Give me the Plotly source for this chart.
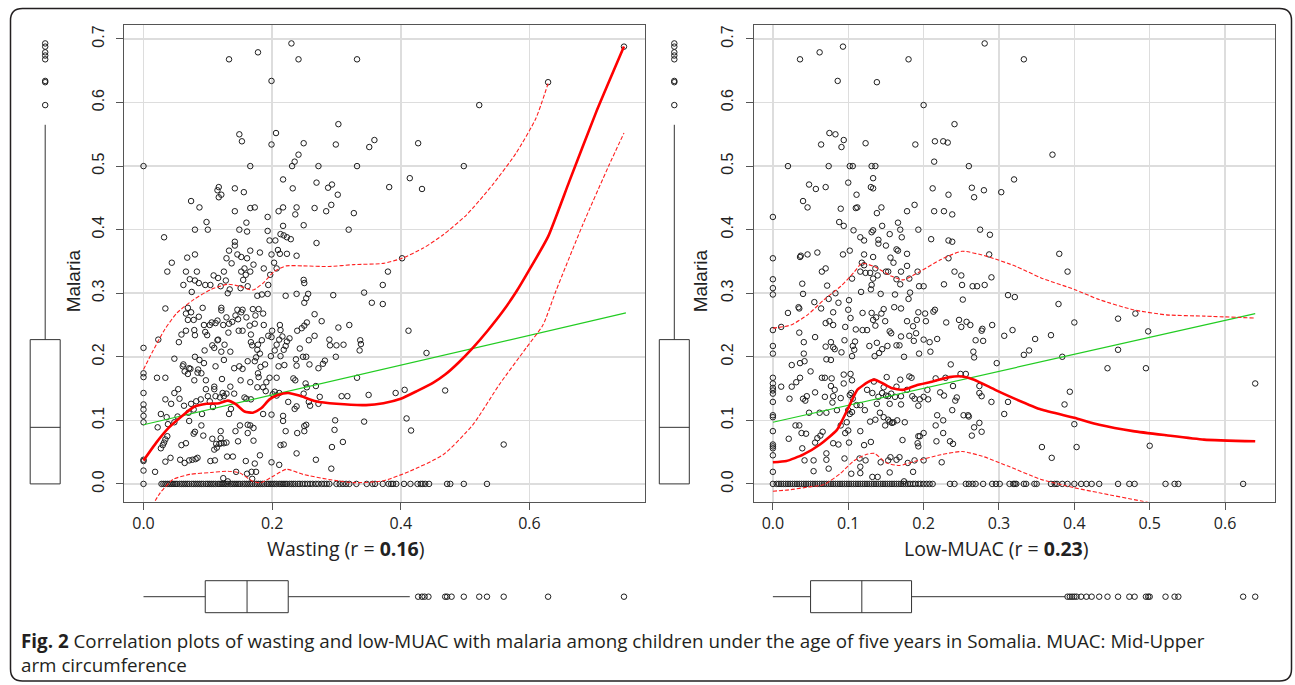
import plotly.graph_objects as go

W, H = 1295, 685

# ---------------- data ----------------
# Panel 1: Wasting vs Malaria, non-zero malaria points (x = wasting, y = malaria)
wasting_points = [
    (0.230,0.693),(0.178,0.679),(0.133,0.668),(0.241,0.668),(0.332,0.668),(0.199,0.634),
    (0.303,0.566),(0.149,0.550),(0.206,0.552),(0.153,0.539),(0.199,0.534),(0.249,0.536),(0.299,0.534),(0.359,0.541),(0.351,0.530),
    (0.0,0.500),(0.166,0.500),(0.231,0.500),(0.272,0.500),(0.332,0.500),(0.241,0.518),(0.235,0.507),
    (0.217,0.479),(0.232,0.465),(0.269,0.474),(0.287,0.466),(0.293,0.471),(0.302,0.455),
    (0.117,0.467),(0.115,0.462),(0.121,0.455),(0.117,0.451),(0.142,0.465),(0.156,0.459),
    (0.074,0.445),(0.087,0.435),(0.142,0.429),(0.166,0.434),(0.173,0.435),(0.098,0.412),
    (0.080,0.400),(0.100,0.400),(0.149,0.400),(0.161,0.397),(0.160,0.411),(0.193,0.420),
    (0.210,0.429),(0.217,0.435),(0.238,0.435),(0.236,0.424),(0.266,0.434),(0.284,0.429),(0.292,0.439),(0.327,0.426),
    (0.249,0.407),(0.217,0.406),(0.193,0.398),(0.213,0.393),(0.218,0.391),(0.223,0.388),(0.229,0.385),(0.319,0.400),(0.269,0.379),
    (0.032,0.388),(0.196,0.383),(0.205,0.383),(0.142,0.381),(0.142,0.375),(0.133,0.367),(0.166,0.367),(0.181,0.364),
    (0.146,0.361),(0.152,0.357),(0.161,0.355),(0.129,0.355),(0.068,0.356),(0.080,0.361),(0.199,0.361),(0.209,0.368),(0.212,0.362),(0.223,0.362),(0.238,0.359),
    (0.044,0.348),(0.137,0.347),(0.171,0.345),(0.203,0.348),
    (0.037,0.334),(0.066,0.334),(0.083,0.334),(0.062,0.313),(0.072,0.322),(0.080,0.320),(0.086,0.316),(0.096,0.313),(0.104,0.313),(0.075,0.302),
    (0.109,0.328),(0.116,0.324),(0.125,0.334),(0.128,0.320),(0.120,0.311),(0.155,0.321),(0.152,0.334),(0.159,0.329),(0.166,0.334),(0.157,0.339),
    (0.187,0.339),(0.151,0.308),(0.162,0.311),(0.131,0.300),(0.134,0.306),(0.177,0.296),(0.184,0.298),(0.193,0.299),(0.194,0.313),(0.197,0.329),(0.207,0.339),
    (0.221,0.296),(0.238,0.299),(0.249,0.321),(0.250,0.316),(0.250,0.285),(0.253,0.292),(0.256,0.299),(0.295,0.297),(0.343,0.301),(0.355,0.285),(0.372,0.313),(0.372,0.283),
    (0.034,0.276),(0.023,0.227),(0.0,0.214),(0.048,0.197),(0.055,0.223),(0.059,0.235),(0.066,0.241),(0.069,0.277),(0.066,0.268),(0.074,0.270),(0.069,0.258),(0.078,0.258),
    (0.079,0.242),(0.080,0.234),(0.086,0.263),(0.092,0.277),(0.094,0.250),(0.096,0.239),(0.099,0.234),(0.080,0.200),(0.062,0.188),(0.071,0.182),(0.085,0.180),(0.095,0.210),
    (0.103,0.250),(0.106,0.254),(0.112,0.253),(0.115,0.257),(0.110,0.214),(0.107,0.218),(0.116,0.227),(0.121,0.277),(0.121,0.273),(0.121,0.208),(0.115,0.226),(0.124,0.250),
    (0.129,0.262),(0.133,0.252),(0.132,0.238),(0.138,0.255),(0.143,0.265),(0.147,0.259),(0.148,0.241),(0.154,0.241),(0.154,0.274),(0.146,0.274),(0.152,0.270),(0.160,0.262),
    (0.165,0.249),(0.170,0.275),(0.174,0.265),(0.179,0.275),(0.173,0.252),(0.167,0.235),(0.167,0.223),(0.169,0.218),(0.178,0.219),(0.184,0.226),(0.177,0.211),(0.175,0.199),
    (0.181,0.205),(0.182,0.184),(0.135,0.208),(0.126,0.219),(0.125,0.195),(0.112,0.185),(0.087,0.195),(0.094,0.190),(0.141,0.182),(0.149,0.185),(0.154,0.181),(0.162,0.193),
    (0.173,0.193),(0.189,0.188),(0.186,0.268),(0.187,0.250),(0.194,0.233),(0.200,0.241),(0.199,0.231),(0.204,0.210),(0.198,0.201),(0.207,0.219),(0.211,0.227),(0.212,0.250),
    (0.213,0.242),(0.216,0.232),(0.221,0.217),(0.223,0.224),(0.227,0.229),(0.218,0.211),(0.213,0.201),(0.219,0.187),(0.210,0.185),
    (0.243,0.213),(0.237,0.196),(0.248,0.200),(0.253,0.200),(0.257,0.226),(0.266,0.233),(0.239,0.241),(0.246,0.245),(0.250,0.249),(0.254,0.254),(0.266,0.267),(0.277,0.256),
    (0.289,0.227),(0.290,0.218),(0.300,0.218),(0.311,0.219),(0.299,0.200),(0.303,0.246),(0.320,0.250),(0.337,0.226),(0.338,0.220),(0.336,0.210),(0.282,0.194),(0.279,0.189),
    (0.272,0.182),(0.258,0.188),(0.238,0.186),
    (0.0,0.174),(0.0,0.168),(0.021,0.167),(0.034,0.167),(0.0,0.143),(0.0,0.125),(0.0,0.117),(0.0,0.107),(0.0,0.097),(0.022,0.089),(0.027,0.110),(0.034,0.133),
    (0.036,0.105),(0.038,0.094),(0.043,0.126),(0.048,0.143),(0.054,0.149),(0.056,0.134),(0.063,0.123),(0.061,0.185),(0.064,0.177),(0.069,0.173),(0.073,0.181),(0.079,0.163),
    (0.084,0.175),(0.090,0.174),(0.053,0.106),(0.071,0.099),(0.070,0.112),(0.074,0.126),(0.078,0.117),(0.082,0.130),(0.089,0.133),(0.091,0.110),(0.097,0.163),(0.097,0.149),
    (0.100,0.138),(0.103,0.130),(0.110,0.153),(0.110,0.149),(0.112,0.138),(0.108,0.121),(0.119,0.136),(0.123,0.143),(0.125,0.138),(0.129,0.142),(0.135,0.153),(0.136,0.118),
    (0.133,0.110),(0.122,0.165),(0.141,0.142),(0.151,0.163),(0.157,0.136),(0.160,0.134),(0.167,0.133),(0.166,0.160),(0.178,0.174),(0.179,0.168),(0.177,0.152),(0.186,0.110),
    (0.186,0.152),(0.191,0.160),(0.196,0.167),(0.190,0.146),(0.201,0.141),(0.204,0.145),(0.207,0.139),(0.211,0.143),(0.207,0.167),(0.199,0.109),(0.217,0.107),(0.217,0.099),
    (0.225,0.129),(0.235,0.118),(0.238,0.122),(0.233,0.166),(0.236,0.163),(0.252,0.158),(0.254,0.152),(0.249,0.142),(0.257,0.129),(0.259,0.123),(0.268,0.154),(0.274,0.137),
    (0.272,0.126),(0.298,0.100),(0.308,0.138),(0.317,0.138),(0.332,0.167),(0.350,0.140),(0.343,0.098),(0.297,0.085),(0.310,0.066),(0.293,0.058),(0.292,0.024),
    (0.0,0.038),(0.0,0.036),(0.0,0.021),(0.018,0.019),(0.027,0.056),(0.030,0.061),(0.032,0.065),(0.034,0.070),(0.037,0.075),(0.034,0.035),(0.042,0.041),(0.048,0.097),
    (0.057,0.038),(0.059,0.061),(0.066,0.064),(0.064,0.033),(0.071,0.037),(0.076,0.038),(0.081,0.039),(0.084,0.041),(0.078,0.079),(0.080,0.082),(0.093,0.076),(0.090,0.092),
    (0.104,0.036),(0.111,0.037),(0.110,0.054),(0.114,0.057),(0.107,0.071),(0.120,0.083),(0.113,0.063),(0.118,0.063),(0.121,0.064),(0.125,0.064),(0.129,0.065),(0.120,0.072),
    (0.124,0.009),(0.131,0.004),(0.130,0.043),(0.139,0.043),(0.143,0.083),(0.150,0.092),(0.147,0.067),(0.144,0.019),(0.159,0.036),(0.162,0.093),(0.162,0.080),(0.166,0.092),
    (0.171,0.088),(0.171,0.068),(0.173,0.032),(0.181,0.045),(0.161,0.016),(0.168,0.019),(0.175,0.019),(0.169,0.008),(0.199,0.034),(0.211,0.030),(0.213,0.061),(0.218,0.062),
    (0.221,0.083),(0.238,0.048),(0.239,0.080),(0.250,0.091),(0.253,0.093),(0.250,0.083),(0.268,0.038),
    (0.747,0.688),(0.629,0.632),(0.522,0.596),(0.427,0.536),(0.498,0.500),(0.382,0.467),(0.414,0.481),(0.433,0.464),(0.402,0.355),(0.380,0.334),
    (0.412,0.241),(0.440,0.206),(0.392,0.143),(0.406,0.148),(0.469,0.147),(0.409,0.103),(0.416,0.084),(0.560,0.062),
]
# Panel 1: wasting values of children with zero malaria
wasting_zero_x = [
    0.0,0.028,0.031,0.034,0.037,0.040,0.043,0.046,0.049,0.052,0.056,0.059,0.062,0.065,0.068,0.071,0.075,0.078,0.081,0.084,
    0.087,0.090,0.093,0.097,0.100,0.103,0.106,0.109,0.112,0.116,0.119,0.122,0.125,0.128,0.131,0.135,0.138,0.141,0.144,0.147,
    0.150,0.154,0.157,0.160,0.163,0.166,0.169,0.173,0.176,0.179,0.182,0.185,0.188,0.192,0.195,0.198,0.201,0.204,0.207,0.211,
    0.214,0.217,0.220,0.223,0.227,0.230,0.233,0.236,0.240,0.243,0.247,0.251,0.255,0.259,0.263,0.268,0.272,0.277,0.281,0.285,
    0.289,0.300,0.305,0.310,0.315,0.320,0.331,0.347,0.356,0.360,0.372,0.381,0.385,0.388,0.393,0.405,0.415,0.426,0.431,0.434,
    0.438,0.444,0.472,0.477,0.498,0.534,
]
# Panel 1 fitted lines
wasting_loess_x = [0.0,0.0196,0.039,0.059,0.078,0.098,0.118,0.131,0.144,0.157,0.170,0.183,0.196,0.209,0.225,0.242,0.268,0.30,
                   0.346,0.373,0.400,0.425,0.450,0.469,0.490,0.512,0.535,0.559,0.580,0.600,0.629,0.662,0.703,0.747]
wasting_loess_y = [0.0367,0.0645,0.088,0.106,0.121,0.126,0.127,0.131,0.125,0.114,0.112,0.119,0.133,0.140,0.143,0.139,0.130,0.126,
                   0.124,0.127,0.134,0.146,0.159,0.172,0.191,0.214,0.241,0.272,0.303,0.337,0.389,0.476,0.583,0.688]
wasting_upper_x = [0.0,0.013,0.033,0.052,0.078,0.105,0.131,0.150,0.170,0.186,0.203,0.222,0.248,0.288,0.327,0.373,0.402,0.435,
                   0.466,0.502,0.543,0.579,0.610,0.629]
wasting_upper_y = [0.180,0.206,0.243,0.269,0.290,0.306,0.314,0.311,0.305,0.316,0.334,0.343,0.343,0.342,0.345,0.347,0.355,0.371,
                   0.392,0.423,0.471,0.520,0.575,0.630]
wasting_lower_x = [0.0,0.026,0.046,0.072,0.105,0.131,0.150,0.170,0.183,0.203,0.222,0.248,0.288,0.327,0.373,0.414,0.466,0.512,
                   0.553,0.595,0.621,0.641,0.683,0.724,0.747]
wasting_lower_y = [-0.060,-0.014,0.007,0.015,0.018,0.020,0.017,0.004,0.002,0.013,0.023,0.015,0.007,0.002,0.005,0.020,0.046,0.093,
                   0.156,0.214,0.250,0.303,0.408,0.502,0.552]
wasting_lin_x = [0.0, 0.75]
wasting_lin_y = [0.093, 0.269]

# Panel 2: Low-MUAC vs Malaria, non-zero malaria points
muac_points = [
    (0.281,0.693),(0.036,0.668),(0.062,0.679),(0.093,0.688),(0.180,0.668),(0.086,0.634),(0.138,0.632),(0.200,0.596),(0.241,0.566),
    (0.075,0.552),(0.083,0.550),(0.064,0.534),(0.091,0.530),(0.094,0.541),(0.123,0.536),(0.189,0.534),(0.215,0.539),(0.226,0.539),(0.232,0.537),(0.214,0.507),
    (0.020,0.500),(0.074,0.500),(0.102,0.500),(0.106,0.500),(0.131,0.500),(0.136,0.500),(0.260,0.500),
    (0.133,0.481),(0.130,0.467),(0.133,0.465),(0.100,0.474),(0.111,0.455),(0.048,0.471),(0.057,0.464),(0.070,0.467),(0.040,0.445),(0.046,0.435),(0.0,0.420),
    (0.090,0.433),(0.110,0.434),(0.112,0.435),(0.144,0.435),(0.138,0.426),(0.178,0.429),(0.188,0.439),(0.212,0.465),(0.233,0.455),(0.264,0.466),(0.267,0.451),
    (0.280,0.462),(0.303,0.459),(0.320,0.479),
    (0.214,0.429),(0.227,0.429),(0.238,0.424),(0.088,0.412),(0.094,0.406),(0.107,0.399),(0.116,0.388),(0.121,0.383),(0.133,0.399),(0.131,0.396),(0.145,0.406),
    (0.140,0.384),(0.140,0.378),(0.150,0.375),(0.155,0.393),(0.166,0.411),(0.169,0.400),(0.171,0.388),(0.193,0.400),(0.210,0.385),(0.233,0.383),(0.238,0.381),
    (0.275,0.400),(0.288,0.392),
    (0.0,0.355),(0.036,0.357),(0.037,0.359),(0.046,0.361),(0.059,0.364),(0.093,0.361),(0.102,0.367),(0.121,0.361),(0.133,0.357),(0.164,0.369),(0.166,0.367),
    (0.156,0.356),(0.178,0.362),(0.233,0.355),(0.287,0.361),(0.118,0.348),(0.160,0.348),
    (0.0,0.322),(0.0,0.308),(0.0,0.298),(0.039,0.315),(0.040,0.299),(0.065,0.334),(0.070,0.339),(0.072,0.312),(0.083,0.300),(0.105,0.323),(0.121,0.344),
    (0.116,0.334),(0.123,0.332),(0.129,0.332),(0.136,0.339),(0.139,0.328),(0.133,0.323),(0.131,0.313),(0.130,0.306),(0.117,0.302),(0.143,0.299),(0.150,0.334),
    (0.153,0.334),(0.164,0.322),(0.170,0.334),(0.169,0.314),(0.162,0.298),(0.178,0.343),(0.181,0.323),(0.192,0.334),(0.194,0.311),(0.182,0.301),(0.180,0.291),
    (0.200,0.311),(0.227,0.314),(0.241,0.334),(0.250,0.328),(0.251,0.313),(0.252,0.290),(0.265,0.311),(0.271,0.311),(0.281,0.313),(0.290,0.325),(0.312,0.297),
    (0.0,0.242),(0.0,0.217),(0.0,0.205),(0.011,0.247),(0.020,0.269),(0.034,0.278),(0.035,0.276),(0.056,0.231),(0.041,0.223),(0.041,0.205),(0.035,0.238),
    (0.055,0.286),(0.064,0.276),(0.070,0.253),(0.075,0.256),(0.080,0.250),(0.080,0.270),(0.074,0.291),(0.087,0.285),(0.070,0.216),(0.077,0.223),(0.080,0.215),
    (0.082,0.212),(0.091,0.207),(0.095,0.226),(0.096,0.247),(0.100,0.274),(0.101,0.289),(0.103,0.261),(0.106,0.217),(0.108,0.211),(0.105,0.201),(0.109,0.224),
    (0.110,0.243),(0.119,0.242),(0.119,0.269),(0.125,0.242),(0.128,0.217),(0.131,0.269),(0.133,0.258),(0.136,0.249),(0.137,0.262),(0.141,0.206),(0.144,0.268),
    (0.147,0.275),(0.149,0.256),(0.152,0.217),(0.145,0.212),(0.135,0.201),(0.138,0.222),(0.155,0.240),(0.157,0.237),(0.164,0.218),(0.168,0.218),(0.170,0.232),
    (0.174,0.200),(0.170,0.276),(0.161,0.278),(0.178,0.256),(0.181,0.233),(0.187,0.225),(0.186,0.248),(0.190,0.237),(0.191,0.258),(0.193,0.270),(0.194,0.205),
    (0.200,0.227),(0.202,0.268),(0.203,0.256),(0.209,0.208),(0.208,0.223),(0.213,0.271),(0.215,0.274),(0.218,0.228),(0.230,0.254),(0.247,0.258),(0.250,0.247),
    (0.257,0.255),(0.262,0.250),(0.266,0.208),(0.267,0.199),(0.269,0.226),(0.277,0.241),(0.278,0.244),(0.279,0.225),(0.291,0.250),(0.297,0.190),(0.307,0.233),
    (0.318,0.242),(0.236,0.188),
    (0.0,0.167),(0.0,0.158),(0.0,0.151),(0.0,0.147),(0.0,0.142),(0.0,0.129),(0.0,0.108),(0.0,0.105),(0.011,0.153),(0.025,0.187),(0.022,0.134),(0.025,0.153),
    (0.031,0.160),(0.036,0.167),(0.036,0.190),(0.042,0.193),(0.050,0.177),(0.040,0.134),(0.045,0.138),(0.043,0.131),(0.048,0.112),(0.056,0.144),(0.062,0.112),
    (0.065,0.167),(0.069,0.167),(0.071,0.196),(0.077,0.195),(0.078,0.166),(0.077,0.154),(0.080,0.138),(0.082,0.148),(0.069,0.137),(0.071,0.112),(0.079,0.128),
    (0.085,0.116),(0.090,0.135),(0.094,0.158),(0.094,0.172),(0.103,0.173),(0.105,0.163),(0.104,0.143),(0.102,0.140),(0.106,0.134),(0.105,0.113),(0.102,0.110),
    (0.100,0.116),(0.111,0.124),(0.116,0.124),(0.122,0.116),(0.125,0.148),(0.132,0.143),(0.134,0.161),(0.140,0.137),(0.138,0.126),(0.142,0.112),(0.145,0.143),
    (0.147,0.152),(0.151,0.168),(0.150,0.139),(0.153,0.138),(0.157,0.142),(0.155,0.126),(0.155,0.098),(0.153,0.101),(0.149,0.092),(0.162,0.137),(0.164,0.153),
    (0.169,0.164),(0.170,0.138),(0.170,0.125),(0.178,0.148),(0.181,0.169),(0.184,0.167),(0.185,0.138),(0.188,0.134),(0.193,0.123),(0.195,0.133),(0.200,0.137),
    (0.205,0.148),(0.206,0.133),(0.216,0.166),(0.222,0.144),(0.227,0.139),(0.229,0.167),(0.239,0.154),(0.242,0.131),(0.244,0.136),(0.249,0.173),(0.256,0.173),
    (0.253,0.108),(0.259,0.108),(0.260,0.106),(0.274,0.154),(0.274,0.143),(0.277,0.138),(0.290,0.129),(0.307,0.110),(0.312,0.129),(0.238,0.116),(0.226,0.100),
    (0.218,0.108),(0.175,0.097),(0.165,0.100),(0.160,0.097),(0.129,0.098),(0.136,0.101),(0.147,0.105),(0.158,0.096),(0.098,0.097),
    (0.0,0.083),(0.0,0.062),(0.0,0.059),(0.0,0.056),(0.0,0.045),(0.0,0.019),(0.021,0.071),(0.030,0.092),(0.035,0.092),(0.038,0.080),(0.039,0.056),(0.044,0.079),
    (0.042,0.037),(0.054,0.037),(0.054,0.020),(0.056,0.065),(0.059,0.072),(0.063,0.076),(0.066,0.082),(0.071,0.048),(0.071,0.038),(0.074,0.024),(0.080,0.064),
    (0.087,0.062),(0.090,0.092),(0.096,0.080),(0.095,0.040),(0.100,0.084),(0.101,0.065),(0.104,0.016),(0.116,0.083),(0.115,0.040),(0.116,0.027),(0.121,0.061),
    (0.116,0.017),(0.123,0.037),(0.130,0.066),(0.132,0.011),(0.139,0.011),(0.143,0.034),(0.153,0.037),(0.155,0.018),(0.156,0.042),(0.164,0.038),(0.168,0.042),
    (0.172,0.069),(0.174,0.004),(0.179,0.033),(0.186,0.019),(0.188,0.037),(0.193,0.075),(0.192,0.064),(0.193,0.059),(0.195,0.075),(0.200,0.037),(0.200,0.080),
    (0.216,0.092),(0.217,0.067),(0.224,0.034),(0.226,0.080),(0.235,0.067),(0.239,0.063),(0.264,0.076),(0.267,0.089),(0.277,0.082),(0.274,0.096),
    (0.333,0.668),(0.371,0.518),(0.380,0.362),(0.391,0.334),(0.321,0.294),(0.379,0.283),(0.400,0.254),(0.458,0.260),(0.481,0.268),(0.498,0.240),
    (0.348,0.228),(0.369,0.234),(0.340,0.210),(0.333,0.203),(0.384,0.200),(0.458,0.211),(0.444,0.182),(0.495,0.182),(0.640,0.158),(0.394,0.145),
    (0.387,0.125),(0.400,0.094),(0.357,0.058),(0.403,0.058),(0.500,0.060),(0.370,0.041),
]
muac_zero_x = [
    0.0,0.005,0.008,0.011,0.014,0.017,0.020,0.023,0.026,0.029,0.032,0.035,0.038,0.041,0.044,0.047,0.050,0.053,0.056,0.059,
    0.062,0.065,0.068,0.071,0.074,0.077,0.080,0.083,0.086,0.089,0.092,0.095,0.098,0.101,0.104,0.107,0.110,0.113,0.116,0.119,
    0.122,0.125,0.128,0.131,0.134,0.137,0.140,0.143,0.146,0.149,0.152,0.155,0.158,0.161,0.164,0.167,0.170,0.173,0.176,0.179,
    0.182,0.186,0.189,0.193,0.196,0.200,0.204,0.208,0.212,0.235,0.241,0.256,0.260,0.265,0.269,0.279,0.291,0.296,0.301,0.314,
    0.319,0.321,0.323,0.333,0.336,0.347,0.350,0.369,0.374,0.377,0.384,0.391,0.400,0.409,0.416,0.423,0.433,0.458,0.473,0.480,
    0.521,0.533,0.538,0.624,
]
muac_loess_x = [0.0,0.018,0.040,0.0625,0.085,0.101,0.112,0.126,0.1345,0.146,0.157,0.173,0.190,0.212,0.234,0.251,0.267,0.295,
                0.323,0.356,0.400,0.433,0.478,0.522,0.572,0.64]
muac_loess_y = [0.034,0.036,0.046,0.062,0.085,0.122,0.148,0.160,0.164,0.158,0.151,0.148,0.155,0.161,0.168,0.169,0.164,0.148,
                0.133,0.117,0.104,0.093,0.083,0.0765,0.0697,0.067]
muac_upper_x = [0.0,0.024,0.046,0.068,0.090,0.107,0.118,0.1345,0.157,0.173,0.195,0.223,0.251,0.284,0.323,0.356,0.400,0.433,
                0.478,0.522,0.572,0.638]
muac_upper_y = [0.245,0.250,0.266,0.290,0.311,0.332,0.347,0.342,0.327,0.321,0.334,0.353,0.366,0.358,0.342,0.324,0.306,0.290,
                0.274,0.266,0.264,0.261]
muac_lower_x = [0.0,0.024,0.046,0.068,0.090,0.107,0.123,0.1345,0.151,0.168,0.190,0.223,0.251,0.278,0.312,0.356,0.400,0.433,
                0.489,0.544,0.638]
muac_lower_y = [-0.0115,-0.009,-0.005,-0.001,0.017,0.036,0.046,0.048,0.033,0.029,0.036,0.046,0.051,0.0435,0.028,0.007,-0.006,
                -0.014,-0.027,-0.040,-0.061]
muac_lin_x = [0.0, 0.64]
muac_lin_y = [0.097, 0.268]

# marginal boxplot statistics
malaria_box = [0.0, 0.089, 0.227, 0.0, 0.565]          # q1, median, q3, lower whisker, upper whisker
malaria_outliers = [0.596, 0.632, 0.634, 0.668, 0.674, 0.679, 0.688, 0.693]
wasting_box = [0.096, 0.161, 0.225, 0.0, 0.414]
wasting_outliers = [0.427, 0.433, 0.437, 0.443, 0.469, 0.472, 0.479, 0.498, 0.522, 0.534, 0.560, 0.629, 0.747]
muac_box = [0.050, 0.118, 0.184, 0.0, 0.388]
muac_outliers = [0.391, 0.394, 0.397, 0.400, 0.403, 0.409, 0.416, 0.423, 0.433, 0.444, 0.458, 0.473, 0.480,
                 0.495, 0.498, 0.500, 0.521, 0.533, 0.538, 0.624, 0.640]

x_titles = ["Wasting (r = <b>0.16</b>)", "Low-MUAC (r = <b>0.23</b>)"]
y_title = "Malaria"
caption_1 = ("<b>Fig. 2</b> Correlation plots of wasting and low-MUAC with malaria among children under the age of "
             "five years in Somalia. MUAC: Mid-Upper")
caption_2 = "arm circumference"

# ---------------- helpers ----------------
def fx(p):
    return p / W

def fy(p):
    return 1 - p / H

PT = "#1e1e1e"
FRAME = "#555555"
GRID = "#dddddd"
SANS = "Liberation Sans, Arial, sans-serif"
HUM = "Open Sans, Noto Sans, sans-serif"

fig = go.Figure()

marker = dict(symbol="circle-open", size=5.5, color=PT, line=dict(width=1, color=PT))


def add_panel(points, zero_x, loess_x, loess_y, up_x, up_y, lo_x, lo_y, lin_x, lin_y, xa, ya):
    fig.add_trace(go.Scatter(x=[p[0] for p in points] + zero_x,
                             y=[p[1] for p in points] + [0.0] * len(zero_x),
                             mode="markers", marker=marker, xaxis=xa, yaxis=ya, hoverinfo="skip"))
    fig.add_trace(go.Scatter(x=lin_x, y=lin_y, mode="lines", line=dict(color="#22cc22", width=1.2),
                             xaxis=xa, yaxis=ya, hoverinfo="skip"))
    dash = dict(color="#ff2020", width=1.1, dash="4px,2px", shape="spline", smoothing=0.6)
    fig.add_trace(go.Scatter(x=up_x, y=up_y, mode="lines", line=dash, xaxis=xa, yaxis=ya, hoverinfo="skip"))
    fig.add_trace(go.Scatter(x=lo_x, y=lo_y, mode="lines", line=dash, xaxis=xa, yaxis=ya, hoverinfo="skip"))
    fig.add_trace(go.Scatter(x=loess_x, y=loess_y, mode="lines",
                             line=dict(color="#ff0000", width=2.6, shape="spline", smoothing=0.5),
                             xaxis=xa, yaxis=ya, hoverinfo="skip"))


add_panel(wasting_points, wasting_zero_x, wasting_loess_x, wasting_loess_y, wasting_upper_x, wasting_upper_y,
          wasting_lower_x, wasting_lower_y, wasting_lin_x, wasting_lin_y, "x", "y")
add_panel(muac_points, muac_zero_x, muac_loess_x, muac_loess_y, muac_upper_x, muac_upper_y,
          muac_lower_x, muac_lower_y, muac_lin_x, muac_lin_y, "x2", "y2")

boxstyle = dict(fillcolor="white", line=dict(color="#333333", width=1), whiskerwidth=0, boxpoints=False, hoverinfo="skip")

# vertical (malaria) boxplots: own hidden axes (x3/y5 and x4/y6) so no grid is drawn behind them
for xa, ya in (("x3", "y5"), ("x4", "y6")):
    q1, med, q3, lo, hi = malaria_box
    fig.add_trace(go.Box(x=[0], q1=[q1], median=[med], q3=[q3], lowerfence=[lo], upperfence=[hi],
                         width=0.6, xaxis=xa, yaxis=ya, **boxstyle))
    fig.add_trace(go.Scatter(x=[0] * len(malaria_outliers), y=malaria_outliers, mode="markers", marker=marker,
                             xaxis=xa, yaxis=ya, hoverinfo="skip"))

# horizontal (x variable) boxplots: own hidden axes (x5/y3 and x6/y4)
for stats, outs, xa, ya in ((wasting_box, wasting_outliers, "x5", "y3"), (muac_box, muac_outliers, "x6", "y4")):
    q1, med, q3, lo, hi = stats
    fig.add_trace(go.Box(y=[0], q1=[q1], median=[med], q3=[q3], lowerfence=[lo], upperfence=[hi],
                         orientation="h", width=0.64, xaxis=xa, yaxis=ya, **boxstyle))
    fig.add_trace(go.Scatter(x=outs, y=[0] * len(outs), mode="markers", marker=marker,
                             xaxis=xa, yaxis=ya, hoverinfo="skip"))

ydom = [fy(501.7), fy(25)]
xdom1 = [fx(124.2), fx(645.2)]
xdom2 = [fx(753.6), fx(1274.5)]
xr1 = [-0.03, 0.78]
xr2 = [-0.0256, 0.6656]
yr = [-0.028, 0.722]

common_x = dict(showgrid=True, gridcolor=GRID, gridwidth=1.5, zeroline=False, showline=True, mirror=True,
                linecolor=FRAME, linewidth=1, ticks="outside", ticklen=7, tickcolor=FRAME, type="linear",
                tickformat=".1f", tickfont=dict(family=HUM, size=16, color="#222"), ticklabelstandoff=0)
common_y = dict(showgrid=True, gridcolor=GRID, gridwidth=1.5, zeroline=False, showline=True, mirror=True,
                linecolor=FRAME, linewidth=1, ticks="outside", ticklen=7, tickcolor=FRAME, type="linear",
                tickvals=[0, 0.1, 0.2, 0.3, 0.4, 0.5, 0.6, 0.7], tickformat=".1f", tickangle=-90,
                tickfont=dict(family=SANS, size=16, color="#222"), ticklabelstandoff=6)
hidden = dict(visible=False, showgrid=False, zeroline=False, fixedrange=True, type="linear")

fig.update_layout(
    width=W, height=H, margin=dict(l=0, r=0, t=0, b=0),
    paper_bgcolor="white", plot_bgcolor="white", showlegend=False,
    xaxis=dict(domain=xdom1, range=xr1, tickvals=[0, 0.2, 0.4, 0.6], anchor="y", **common_x),
    yaxis=dict(domain=ydom, range=yr, anchor="x", **common_y),
    xaxis2=dict(domain=xdom2, range=xr2, tickvals=[0, 0.1, 0.2, 0.3, 0.4, 0.5, 0.6], anchor="y2", **common_x),
    yaxis2=dict(domain=ydom, range=yr, anchor="x2", **common_y),
    xaxis3=dict(domain=[fx(20.2), fx(70.2)], range=[-0.5, 0.5], anchor="y5", **hidden),
    xaxis4=dict(domain=[fx(649.3), fx(699.3)], range=[-0.5, 0.5], anchor="y6", **hidden),
    yaxis5=dict(domain=ydom, range=yr, anchor="x3", **hidden),
    yaxis6=dict(domain=ydom, range=yr, anchor="x4", **hidden),
    xaxis5=dict(domain=xdom1, range=xr1, anchor="y3", **hidden),
    xaxis6=dict(domain=xdom2, range=xr2, anchor="y4", **hidden),
    yaxis3=dict(domain=[fy(621.7), fy(571.7)], range=[-0.5, 0.5], anchor="x5", **hidden),
    yaxis4=dict(domain=[fy(621.7), fy(571.7)], range=[-0.5, 0.5], anchor="x6", **hidden),
)

ann = []
for text, cx in ((x_titles[0], 345), (x_titles[1], 996)):
    ann.append(dict(text=text, x=fx(cx), y=fy(548), xref="paper", yref="paper", showarrow=False,
                    xanchor="center", yanchor="middle", font=dict(family=HUM, size=19.5, color="#222")))
for cx in (73.6, 700.6):
    ann.append(dict(text=y_title, x=fx(cx), y=fy(280.7), xref="paper", yref="paper", showarrow=False,
                    textangle=-90, xanchor="center", yanchor="middle", font=dict(family=SANS, size=19, color="#222")))
ann.append(dict(text=caption_1, x=fx(19), y=fy(641), xref="paper", yref="paper", showarrow=False,
                xanchor="left", yanchor="middle", font=dict(family=HUM, size=18.8, color="#231f20")))
ann.append(dict(text=caption_2, x=fx(19), y=fy(665), xref="paper", yref="paper", showarrow=False,
                xanchor="left", yanchor="middle", font=dict(family=HUM, size=18.8, color="#231f20")))
fig.update_layout(annotations=ann)

# rounded outer frame
x0, y0, x1, y1, r = 10.5, 8.5, 1291.5, 681.0, 12


def P(x, y):
    return f"{fx(x):.5f},{fy(y):.5f}"


path = (f"M {P(x0 + r, y0)} L {P(x1 - r, y0)} Q {P(x1, y0)} {P(x1, y0 + r)} L {P(x1, y1 - r)} "
        f"Q {P(x1, y1)} {P(x1 - r, y1)} L {P(x0 + r, y1)} Q {P(x0, y1)} {P(x0, y1 - r)} "
        f"L {P(x0, y0 + r)} Q {P(x0, y0)} {P(x0 + r, y0)} Z")
fig.add_shape(type="path", path=path, xref="paper", yref="paper", line=dict(color="#231f20", width=1.5))

fig.write_html("out.html", config={"displayModeBar": False, "staticPlot": True},
               post_script="document.body.style.margin='0';document.body.style.overflow='hidden';")
